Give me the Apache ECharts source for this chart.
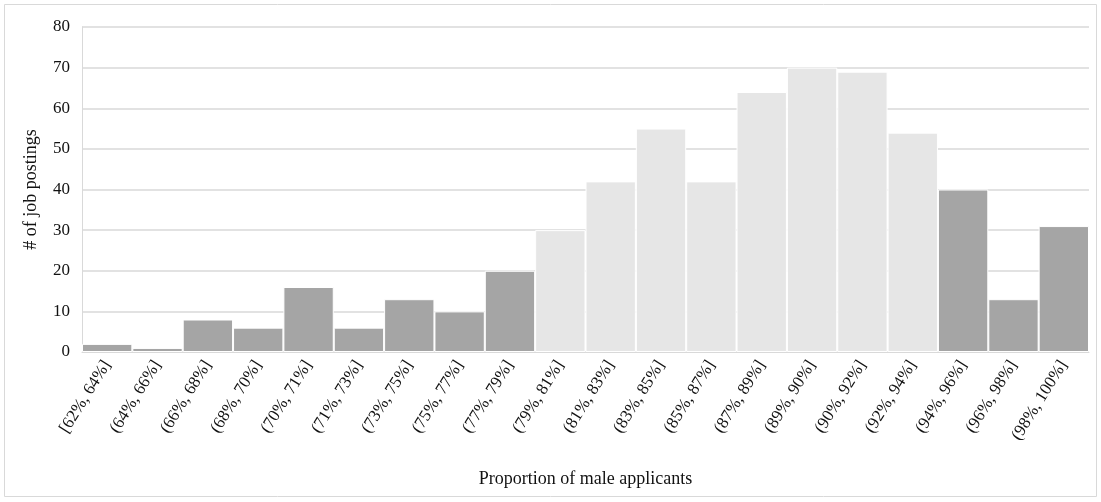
<!DOCTYPE html>
<html><head><meta charset="utf-8">
<script src="https://cdn.jsdelivr.net/npm/echarts@6/dist/echarts.min.js"></script>
<style>html,body{margin:0;padding:0;background:#fff}#c{width:1101px;height:502px}</style>
</head><body><div id="c"></div>
<script>
const categories = ['[62%, 64%]','(64%, 66%]','(66%, 68%]','(68%, 70%]','(70%, 71%]','(71%, 73%]','(73%, 75%]','(75%, 77%]','(77%, 79%]','(79%, 81%]','(81%, 83%]','(83%, 85%]','(85%, 87%]','(87%, 89%]','(89%, 90%]','(90%, 92%]','(92%, 94%]','(94%, 96%]','(96%, 98%]','(98%, 100%]'];
const counts = [2,1,8,6,16,6,13,10,20,30,42,55,42,64,70,69,54,40,13,31];
const highlighted = [false,false,false,false,false,false,false,false,false,true,true,true,true,true,true,true,true,false,false,false];
const yTicks = [0,10,20,30,40,50,60,70,80];
const FONT = '"Liberation Serif","DejaVu Serif",serif';
const chart = echarts.init(document.getElementById('c'));
chart.setOption({
  animation:false,
  graphic:[{type:'rect',shape:{x:4.5,y:4.5,width:1092,height:492},style:{fill:'none',stroke:'#d9d9d9',lineWidth:1}}],
  grid:{left:82,right:12,top:27,bottom:150},
  xAxis:{type:'category',data:categories,
    axisLine:{lineStyle:{color:'#d9d9d9'}},axisTick:{show:false},
    axisLabel:{rotate:58,interval:0,color:'#111',fontFamily:FONT,fontSize:17,margin:10},
    name:'Proportion of male applicants',nameLocation:'middle',nameGap:118,
    nameTextStyle:{color:'#111',fontFamily:FONT,fontSize:18}},
  yAxis:{type:'value',min:yTicks[0],max:yTicks[yTicks.length-1],interval:10,
    axisLine:{show:true,lineStyle:{color:'#d9d9d9'}},axisTick:{show:false},
    splitLine:{lineStyle:{color:'#d9d9d9',width:1.5}},
    axisLabel:{color:'#111',fontFamily:FONT,fontSize:17,margin:12},
    name:'# of job postings',nameLocation:'middle',nameGap:42,
    nameTextStyle:{color:'#111',fontFamily:FONT,fontSize:18}},
  series:[{type:'bar',barCategoryGap:'0%',
    data:counts.map((v,i)=>({value:v,itemStyle:{color:highlighted[i]?'#e6e6e6':'#a5a5a5'}})),
    itemStyle:{borderColor:'#ffffff',borderWidth:1}}]
});
</script></body></html>
